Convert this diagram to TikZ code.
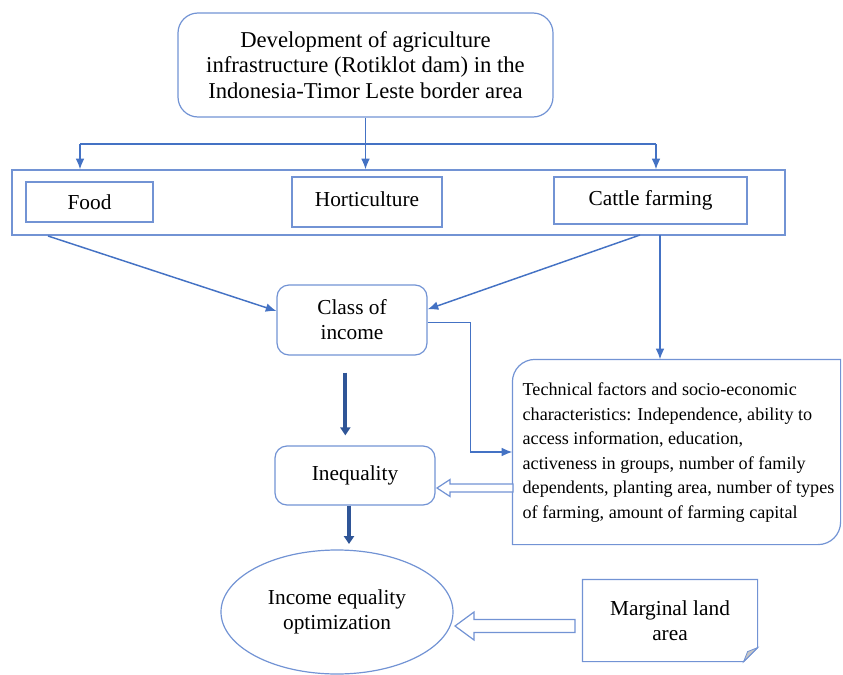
\documentclass[tikz,border=0pt]{standalone}
\usepackage{fontspec}
\setmainfont{Liberation Serif}
\usetikzlibrary{arrows.meta,shapes.geometric}
\definecolor{boxblue}{RGB}{114,147,212}
\definecolor{lineblue}{RGB}{68,114,196}
\definecolor{darkblue}{RGB}{47,85,151}

\begin{document}
\begin{tikzpicture}[x=0.75pt, y=-0.75pt,
    box/.style={draw=boxblue, line width=0.9pt, inner sep=0pt, align=center,
                font=\fontsize{16}{18.75}\selectfont},
    roundbox/.style={box, rounded corners=9pt},
    link/.style={draw=lineblue, line width=1.1pt},
    arr/.style={link, -{Latex[length=8pt,width=6.5pt]}},
    bigarr/.style={draw=darkblue, line width=3pt, -{Triangle[length=6pt,width=7.5pt]}},
    hollow/.style={draw=boxblue, line width=0.9pt, fill=white}]
  \useasboundingbox (0,0) rectangle (843,675);

  \node (top) [roundbox, rounded corners=15pt, minimum width=281.25pt, minimum height=78pt,
               font=\fontsize{17}{19}\selectfont] at (365.5,65)
        {Development of agriculture\\infrastructure (Rotiklot dam) in the\\Indonesia-Timor Leste border area};
  \node (cont) [box, minimum width=579.75pt, minimum height=48.75pt] at (398.5,202.5) {};
  \node (food) [box, minimum width=95.25pt, minimum height=30pt] at (89.5,202) {Food};
  \node (hort) [box, minimum width=112.5pt, minimum height=37.5pt] at (367,202) {\raisebox{4pt}{Horticulture}};
  \node (cattle) [box, minimum width=144.75pt, minimum height=35.25pt] at (650.5,200.5) {Cattle farming};
  \node (class) [roundbox, minimum width=112.5pt, minimum height=52.5pt] at (352,320) {Class of\\income};
  \node (ineq) [roundbox, minimum width=120pt, minimum height=44.25pt] at (355,475.5) {\raisebox{2pt}{Inequality}};
  \node (tech) [box, draw=none, align=left, minimum width=245.25pt, minimum height=138pt,
                font=\fontsize{13.6}{18.4}\selectfont] at (676.5,452)
        {\hspace*{3pt}\begin{tabular}{@{}l@{}}Technical factors and socio-economic\\characteristics: Independence, ability to\\access information, education,\\activeness in groups, number of family\\dependents, planting area, number of types\\of farming, amount of farming capital\end{tabular}};
  \node (goal) [box, ellipse, minimum width=174pt, minimum height=93pt] at (337,612) {Income equality\\optimization};
  \node (marg) [box, draw=none, minimum width=130.5pt, minimum height=60.75pt] at (670,620.5) {Marginal land\\area};

  % outlines with odd corners
  \draw [boxblue, line width=0.9pt] (tech.north east) -- ([xshift=17pt]tech.north west)
        .. controls ([xshift=7.5pt]tech.north west) and ([yshift=-7.5pt]tech.north west) .. ([yshift=-17pt]tech.north west)
        -- (tech.south west) -- ([xshift=-17pt]tech.south east)
        .. controls ([xshift=-7.5pt]tech.south east) and ([yshift=7.5pt]tech.south east) .. ([yshift=17pt]tech.south east)
        -- cycle;
  \draw [boxblue, line width=0.9pt] (marg.north west) -- (marg.north east) -- ([yshift=10.5pt]marg.south east)
        -- ([xshift=-10.5pt]marg.south east) -- (marg.south west) -- cycle;
  \filldraw [fill=gray!45, draw=boxblue, line width=0.6pt] ([yshift=10.5pt]marg.south east)
        -- ([xshift=-10.5pt]marg.south east) -- ([xshift=-7.5pt,yshift=7.5pt]marg.south east) -- cycle;

  \coordinate (splitL) at (80,144);
  \coordinate (splitR) at (656,144);
  \coordinate (fromL) at (48,236);
  \coordinate (fromR) at (640,235);
  \coordinate (drop) at (660,235);

  \draw [arr] (top.south) -- (top.south |- cont.north);
  \draw [link] (splitL) -- (splitR);
  \draw [arr] (splitL) -- (splitL |- cont.north);
  \draw [arr] (splitR) -- (splitR |- cont.north);
  \draw [arr] (fromL) -- ([yshift=6.75pt]class.west);
  \draw [arr] (fromR) -- ([yshift=8pt]class.east);
  \draw [arr] (drop) -- (drop |- tech.north);
  \draw [arr] ([yshift=-2pt]class.east) -- ++(43,0) |- (tech.west);
  \draw [bigarr, shorten <=12.75pt, shorten >=7.5pt] ([xshift=-5pt]class.south) -- ([xshift=-5pt]class.south |- ineq.north);
  \draw [bigarr, shorten >=4pt] ([xshift=-4.5pt]ineq.south) -- ([xshift=-4.5pt]ineq.south |- goal.north);

  \draw [hollow] (513,484) -- (450,484) -- (450,479.5) -- (437,488) -- (450,496.5) -- (450,492) -- (513,492) -- cycle;
  \draw [hollow] (575,619.5) -- (474,619.5) -- (474,612) -- (455,626) -- (474,640) -- (474,632.5) -- (575,632.5) -- cycle;
\end{tikzpicture}
\end{document}
